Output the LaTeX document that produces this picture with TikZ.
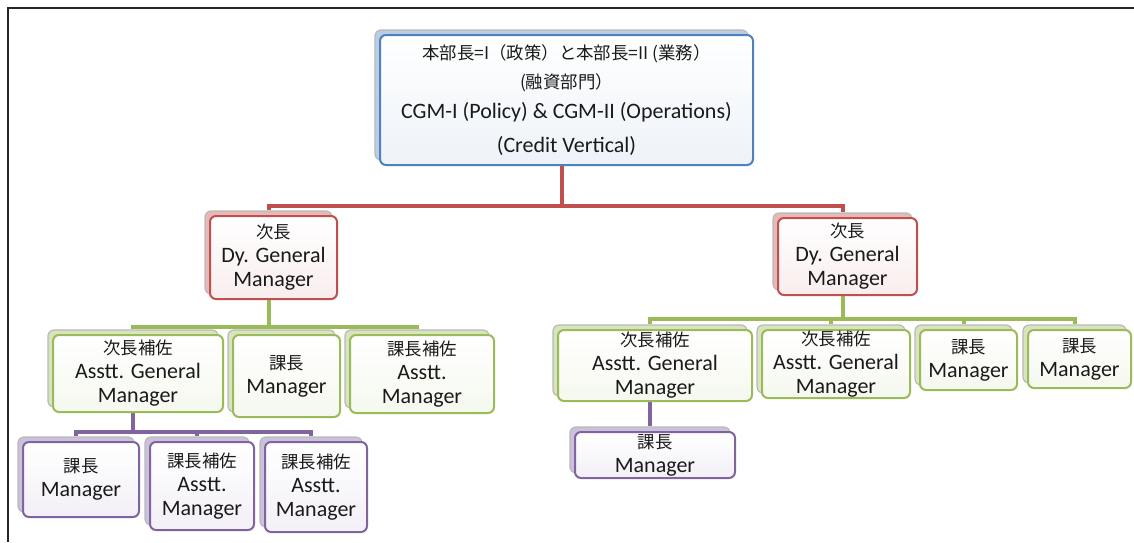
\documentclass[tikz,border=0pt]{standalone}
\usepackage{fontspec}
\setmainfont{Carlito}
\newfontfamily\cjkfont{Noto Sans CJK JP}
\usetikzlibrary{backgrounds}
\definecolor{obBlue}{HTML}{4F81BD}
\definecolor{obRed}{HTML}{C0504D}
\definecolor{obGreen}{HTML}{9BBB59}
\definecolor{obPurple}{HTML}{8064A2}
\definecolor{obText}{HTML}{1A1A1A}
\newcommand\jp[1]{{\cjkfont\fontsize{8.7}{12}\selectfont #1}}
\tikzset{
  backbox/.style={draw=gray!55, line width=0.6pt, fill=#1!40!white, rounded corners=3pt, inner sep=0pt},
  frontbox/.style={draw=#1, line width=1pt, top color=white, bottom color=#1!10!white,
    rounded corners=3pt, inner xsep=2pt, inner ysep=0pt, align=center, text=obText,
    font=\fontsize{11}{12}\selectfont},
  bus/.style={line width=2pt, draw=#1},
}
% name, x1, y1, x2, y2 (front box, pixels), colour, text
\newcommand\obox[7]{%
  \pgfmathsetmacro\obw{(#4-#2)*0.5}%
  \pgfmathsetmacro\obh{(#5-#3)*0.5}%
  \node[backbox=#6, minimum width=\obw pt, minimum height=\obh pt] (#1-b) at ({(#2+#4)/2-5},{(#3+#5)/2-5}) {};
  \node[frontbox=#6, minimum width=\obw pt, minimum height=\obh pt] (#1) at ({(#2+#4)/2},{(#3+#5)/2}) {#7};
}
\begin{document}
\begin{tikzpicture}[x=0.5pt,y=-0.5pt]
\useasboundingbox (0,0) rectangle (1134,542);
\draw[line width=1pt, black!85] (7.5,542) -- (7.5,7.5) -- (1134,7.5);

\obox{top}{380}{35}{753}{165}{obBlue}{\jp{本部長=I（政策）と本部長=II (業務）}\\[2.5pt]\jp{(融資部門）}\\[3pt]CGM-I (Policy) \& CGM-II (Operations)\\[5pt](Credit Vertical)}

\obox{ldgm}{210}{216}{337}{299}{obRed}{\jp{次長}\\Dy. General\\Manager}
\obox{rdgm}{778}{218}{917}{295}{obRed}{\jp{次長}\\Dy. General\\Manager}

\obox{lagm}{53}{335}{223}{412}{obGreen}{\jp{次長補佐}\\Asstt. General\\Manager}
\obox{lmgr}{233}{335}{340}{417}{obGreen}{\jp{課長}\\Manager}
\obox{lam}{350}{335}{494}{413}{obGreen}{\jp{課長補佐}\\Asstt.\\Manager}

\obox{llm}{23}{442}{139}{517}{obPurple}{\jp{課長}\\Manager}
\obox{llamA}{150}{442}{254}{530}{obPurple}{\jp{課長補佐}\\Asstt.\\Manager}
\obox{llamB}{265}{442}{367}{532}{obPurple}{\jp{課長補佐}\\Asstt.\\Manager}

\obox{ragmA}{558}{330}{752}{401}{obGreen}{\jp{次長補佐}\\Asstt. General\\Manager}
\obox{ragmB}{762}{330}{910}{398}{obGreen}{\jp{次長補佐}\\Asstt. General\\Manager}
\obox{rmgrA}{920}{330}{1017}{390}{obGreen}{\jp{課長}\\Manager}
\obox{rmgrB}{1028}{330}{1131}{388}{obGreen}{\jp{課長}\\Manager}

\obox{rpm}{575}{432}{735}{478}{obPurple}{\jp{課長}\\Manager}

\coordinate (busR) at (0,206);
\coordinate (busGL) at (0,327);
\coordinate (busPL) at (0,432);
\coordinate (busGR) at (0,319);

\begin{pgfonlayer}{background}
\draw[bus=obRed] (top-b.south) -- (top-b.south |- busR) -| (ldgm-b.north);
\draw[bus=obRed] (top-b.south |- busR) -| (rdgm-b.north);

\draw[bus=obGreen] (ldgm-b.south) -- (ldgm-b.south |- busGL) -| (lagm-b.north);
\draw[bus=obGreen] (ldgm-b.south |- busGL) -| (lmgr-b.north);
\draw[bus=obGreen] (ldgm-b.south |- busGL) -| (lam-b.north);

\draw[bus=obPurple] (lagm-b.south) -- (lagm-b.south |- busPL) -| (llm-b.north);
\draw[bus=obPurple] (lagm-b.south |- busPL) -| (llamA-b.north);
\draw[bus=obPurple] (lagm-b.south |- busPL) -| (llamB-b.north);

\draw[bus=obGreen] (rdgm-b.south) -- (rdgm-b.south |- busGR) -| (ragmA-b.north);
\draw[bus=obGreen] (rdgm-b.south |- busGR) -| (ragmB-b.north);
\draw[bus=obGreen] (rdgm-b.south |- busGR) -| (rmgrA-b.north);
\draw[bus=obGreen] (rdgm-b.south |- busGR) -| (rmgrB-b.north);

\draw[bus=obPurple] (ragmA-b.south) -- (rpm-b.north);
\end{pgfonlayer}
\end{tikzpicture}
\end{document}
